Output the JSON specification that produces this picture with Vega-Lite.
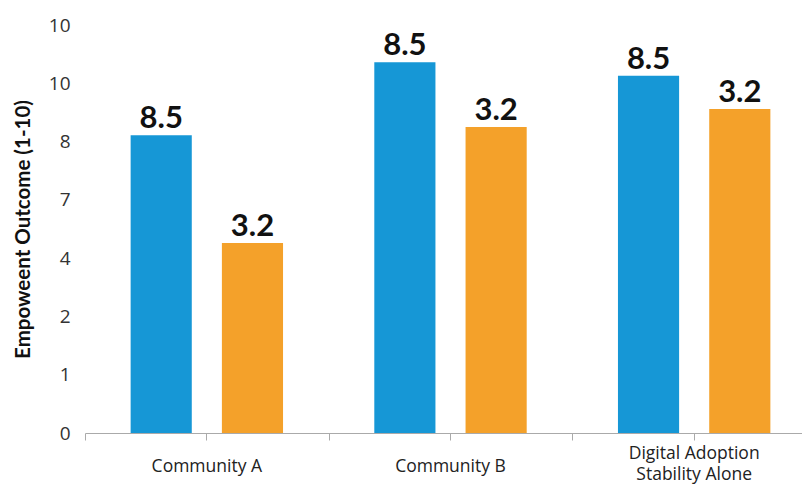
{
  "$schema": "https://vega.github.io/schema/vega-lite/v6.json",
  "width": 731,
  "height": 408,
  "autosize": {"type": "none"},
  "padding": {"left": 85, "top": 25, "right": 0, "bottom": 51},
  "background": "#ffffff",
  "config": {"view": {"stroke": null}, "font": "Open Sans"},
  "data": {
    "values": [
      {"group": "Community A", "series": "Series 1", "value": 5.11, "label": "8.5"},
      {"group": "Community A", "series": "Series 2", "value": 3.26, "label": "3.2"},
      {"group": "Community B", "series": "Series 1", "value": 6.36, "label": "8.5"},
      {"group": "Community B", "series": "Series 2", "value": 5.25, "label": "3.2"},
      {"group": "Digital Adoption|Stability Alone", "series": "Series 1", "value": 6.13, "label": "8.5"},
      {"group": "Digital Adoption|Stability Alone", "series": "Series 2", "value": 5.56, "label": "3.2"}
    ]
  },
  "encoding": {
    "xOffset": {"field": "series", "type": "nominal", "scale": {"paddingInner": 0.33, "paddingOuter": 0.5}},
    "y": {
      "field": "value", "type": "quantitative",
      "scale": {"domain": [0, 7], "nice": false, "zero": true},
      "axis": {
        "title": "Empoweent Outcome (1-10)",
        "titleFont": "Lato", "titleFontSize": 20.5, "titleFontWeight": "bold", "titleColor": "#111111",
        "titlePadding": 15,
        "values": [0, 1, 2, 3, 4, 5, 6, 7],
        "labelExpr": "['0','1','2','4','7','8','10','10'][datum.value]",
        "labelFont": "Open Sans", "labelFontSize": 19, "labelColor": "#333333",
        "labelPadding": 15, "ticks": false, "tickSize": 0, "domain": false, "grid": false
      }
    }
  },
  "layer": [
    {
      "mark": {"type": "bar"},
      "encoding": {
        "x": {
          "field": "group", "type": "nominal", "sort": null,
          "scale": {"paddingInner": 0, "paddingOuter": 0},
          "axis": {
            "orient": "bottom", "title": null, "labelAngle": 0,
            "labelExpr": "split(datum.label, '|')",
            "labelFont": "Open Sans", "labelFontSize": 17.5, "labelColor": "#222222",
            "labelBaseline": "middle",
            "labelPadding": {"condition": {"test": "indexof(datum.label, '|') >= 0", "value": 13}, "value": 26},
            "labelLineHeight": 21.5,
            "domainColor": "#aaaaaa", "tickColor": "#aaaaaa", "tickSize": 7, "grid": false
          }
        },
        "color": {
          "field": "series", "type": "nominal",
          "scale": {"range": ["#1697d6", "#f4a12a"]},
          "legend": null
        }
      }
    },
    {
      "mark": {"type": "text", "font": "Lato", "fontWeight": "bold", "fontSize": 31, "baseline": "alphabetic", "dy": -7, "color": "#111111"},
      "encoding": {
        "x": {
          "field": "group", "type": "nominal", "sort": null,
          "scale": {"paddingInner": 0, "paddingOuter": 0},
          "axis": {
            "orient": "bottom", "title": null, "labels": false, "domain": false,
            "tickBand": "extent", "tickColor": "#aaaaaa", "tickSize": 7, "grid": false
          }
        },
        "text": {"field": "label"}
      }
    }
  ],
  "resolve": {"axis": {"x": "independent"}}
}
